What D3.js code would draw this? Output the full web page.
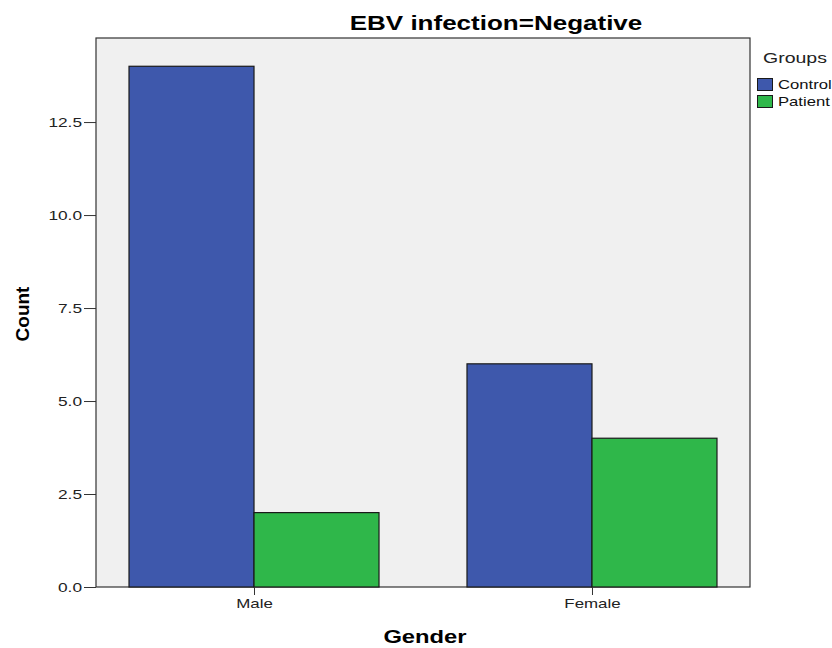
<!DOCTYPE html>
<html>
<head>
<meta charset="UTF-8">
<script src="https://d3js.org/d3.v7.min.js"></script>
<style>
  body { margin: 0; background: #fff; }
  text { font-family: Arial, "Liberation Sans", sans-serif; }
</style>
</head>
<body>
<svg id="chart" width="832" height="648"></svg>
<script>
const genders = ["Male", "Female"];
const groups = ["Control", "Patient"];
const controlCounts = [14, 6];
const patientCounts = [2, 4];
const yTicks = [0, 2.5, 5, 7.5, 10, 12.5];
const groupColors = ["#3e58ac", "#2fb74a"];

const width = 832, height = 648;
const margin = { top: 38, right: 82, bottom: 61, left: 96 };
const svg = d3.select("#chart");

// the reference text looks wider than normal Arial, so stretch it a bit
function stretch(sel, k) {
    sel.each(function() {
        const w = this.getComputedTextLength();
        d3.select(this).attr("textLength", w * k).attr("lengthAdjust", "spacingAndGlyphs");
    });
}

const data = genders.map((g, i) => ({ gender: g, values: [controlCounts[i], patientCounts[i]] }));

const x = d3.scalePoint()
    .domain(genders)
    .range([margin.left, width - margin.right])
    .padding(0.4675);

const xSub = d3.scaleBand()
    .domain(groups)
    .range([-125, 125]);

const y = d3.scaleLinear()
    .domain([0, 14.76])
    .range([height - margin.bottom, margin.top]);

// plot background
svg.append("rect")
    .attr("x", margin.left)
    .attr("y", margin.top)
    .attr("width", width - margin.left - margin.right)
    .attr("height", height - margin.top - margin.bottom)
    .attr("fill", "#f0f0f0")
    .attr("stroke", "#333")
    .attr("stroke-width", 1.2);

// bars
const gGroups = svg.selectAll(".gender")
    .data(data)
    .enter().append("g")
    .attr("transform", d => `translate(${x(d.gender)},0)`);

gGroups.selectAll("rect")
    .data(d => d.values.map((v, j) => ({ group: groups[j], value: v, idx: j })))
    .enter().append("rect")
    .attr("x", d => xSub(d.group))
    .attr("y", d => y(d.value))
    .attr("width", xSub.bandwidth())
    .attr("height", d => y(0) - y(d.value))
    .attr("fill", d => groupColors[d.idx])
    .attr("stroke", "#1a1a1a")
    .attr("stroke-width", 1.2);

// y axis
const yAxis = svg.append("g")
    .attr("transform", `translate(${margin.left},0)`)
    .call(d3.axisLeft(y).tickValues(yTicks).tickFormat(d3.format(".1f")).tickSize(12).tickSizeOuter(0));
yAxis.select(".domain").remove();
yAxis.selectAll("line").attr("stroke", "#333");
yAxis.selectAll("text").style("font-size", "13.5px").attr("fill", "#222").attr("x", -14).call(stretch, 1.28);

// x axis
const xAxis = svg.append("g")
    .attr("transform", `translate(0,${height - margin.bottom})`)
    .call(d3.axisBottom(x).tickSize(8).tickSizeOuter(0));
xAxis.select(".domain").remove();
xAxis.selectAll("line").attr("stroke", "#333");
xAxis.selectAll("text").style("font-size", "13.5px").attr("fill", "#222").attr("y", 11).call(stretch, 1.25);

// title
svg.append("text")
    .attr("x", 496)
    .attr("y", 30)
    .attr("text-anchor", "middle")
    .style("font-size", "20px")
    .style("font-weight", "bold")
    .text("EBV infection=Negative")
    .call(stretch, 1.3);

// axis labels
svg.append("text")
    .attr("transform", "translate(29,314) rotate(-90)")
    .attr("text-anchor", "middle")
    .style("font-size", "19px")
    .style("font-weight", "bold")
    .text("Count");

svg.append("text")
    .attr("x", 425)
    .attr("y", 643)
    .attr("text-anchor", "middle")
    .style("font-size", "18px")
    .style("font-weight", "bold")
    .text("Gender")
    .call(stretch, 1.32);

// legend
const legend = svg.append("g").attr("transform", "translate(757,0)");
legend.append("text")
    .attr("x", 6)
    .attr("y", 63)
    .style("font-size", "15px")
    .attr("fill", "#222")
    .text("Groups")
    .call(stretch, 1.3);
groups.forEach((g, i) => {
    legend.append("rect")
        .attr("x", 0.5)
        .attr("y", 78.5 + i * 17)
        .attr("width", 15)
        .attr("height", 12)
        .attr("fill", groupColors[i])
        .attr("stroke", "#1a1a1a");
    legend.append("text")
        .attr("x", 21)
        .attr("y", 89 + i * 17)
        .style("font-size", "13px")
        .attr("fill", "#111")
        .text(g)
        .call(stretch, 1.28);
});
</script>
</body>
</html>
